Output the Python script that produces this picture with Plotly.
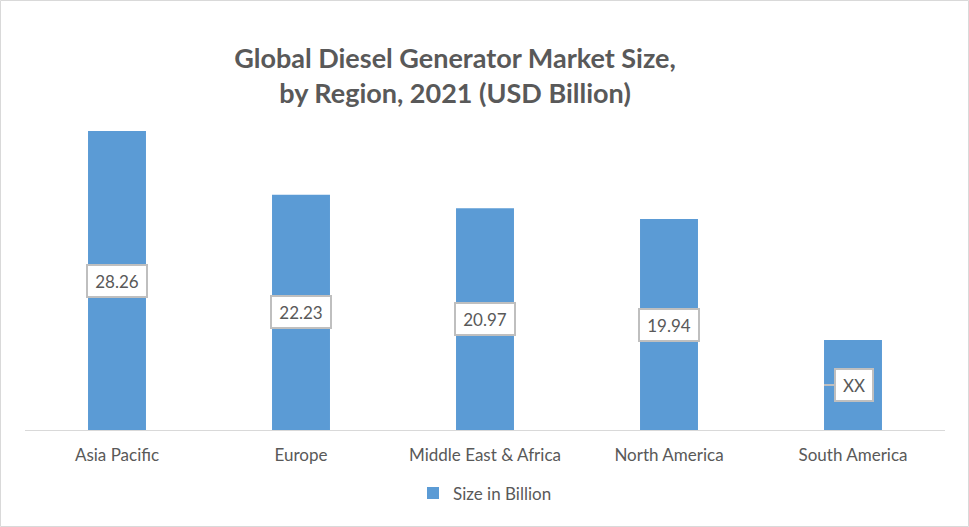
import plotly.graph_objects as go

regions = ["Asia Pacific", "Europe", "Middle East & Africa", "North America", "South America"]
values = [28.26, 22.23, 20.97, 19.94, 8.5]
label_texts = ["28.26", "22.23", "20.97", "19.94", "XX"]
series_name = "Size in Billion"

W, H = 969, 527
ml, mr, mt, mb = 25, 24, 113, 97
FONT = "Lato"
TXT = "#595959"
BAR = "#5B9BD5"

fig = go.Figure()
fig.add_trace(go.Bar(
    x=regions, y=values, name=series_name,
    marker=dict(color=BAR, line=dict(width=0)),
    width=0.315, showlegend=True,
))

annotations = []
for i, (r, v, t) in enumerate(zip(regions, values, label_texts)):
    if t == "XX":
        annotations.append(dict(
            x=r, y=v / 2, text=t, xref="x", yref="y",
            showarrow=True, ax=30, ay=0, xshift=-29, arrowhead=0,
            arrowwidth=2, arrowcolor="#bfbfbf", standoff=0,
            bgcolor="white", bordercolor="#bfbfbf", borderwidth=2, borderpad=2,
            width=32, height=26,
            font=dict(family=FONT, size=17, color=TXT),
        ))
    else:
        annotations.append(dict(
            x=r, y=v / 2, text=t, xref="x", yref="y", showarrow=False,
            bgcolor="white", bordercolor="#bfbfbf", borderwidth=2, borderpad=2,
            width=54, height=26,
            font=dict(family=FONT, size=17, color=TXT),
        ))

pw = W - ml - mr
ph = H - mt - mb
shapes = [dict(
    type="rect", xref="paper", yref="paper",
    x0=(0.5 - ml) / pw, x1=(W - 0.5 - ml) / pw,
    y0=(H - mb - (H - 0.5)) / ph, y1=(H - mb - 0.5) / ph,
    line=dict(color="#d9d9d9", width=1), fillcolor="rgba(0,0,0,0)", layer="below",
)]

fig.update_layout(
    width=W, height=H,
    margin=dict(l=ml, r=mr, t=mt, b=mb, pad=0),
    paper_bgcolor="white", plot_bgcolor="white",
    title=dict(
        text="<b>Global Diesel Generator Market Size,<br>by Region, 2021 (USD Billion)</b>",
        x=455 / W, xanchor="center", y=1 - 68 / H, yanchor="top",
        font=dict(family=FONT, size=27, color=TXT),
    ),
    xaxis=dict(
        showgrid=False, showline=True, linecolor="#d9d9d9", linewidth=1,
        ticks="", tickfont=dict(family=FONT, size=17, color=TXT),
        ticklabelstandoff=10, fixedrange=True,
    ),
    yaxis=dict(
        range=[0, ph / 10.58], showgrid=False, showticklabels=False,
        zeroline=False, showline=False, ticks="", fixedrange=True,
    ),
    legend=dict(
        orientation="h", x=0.5, xanchor="center", y=-0.2, yanchor="middle",
        font=dict(family=FONT, size=17, color=TXT),
    ),
    annotations=annotations,
    shapes=shapes,
)

fig.write_html("out.html", config={"displayModeBar": False},
               post_script="document.body.style.margin='0';")
